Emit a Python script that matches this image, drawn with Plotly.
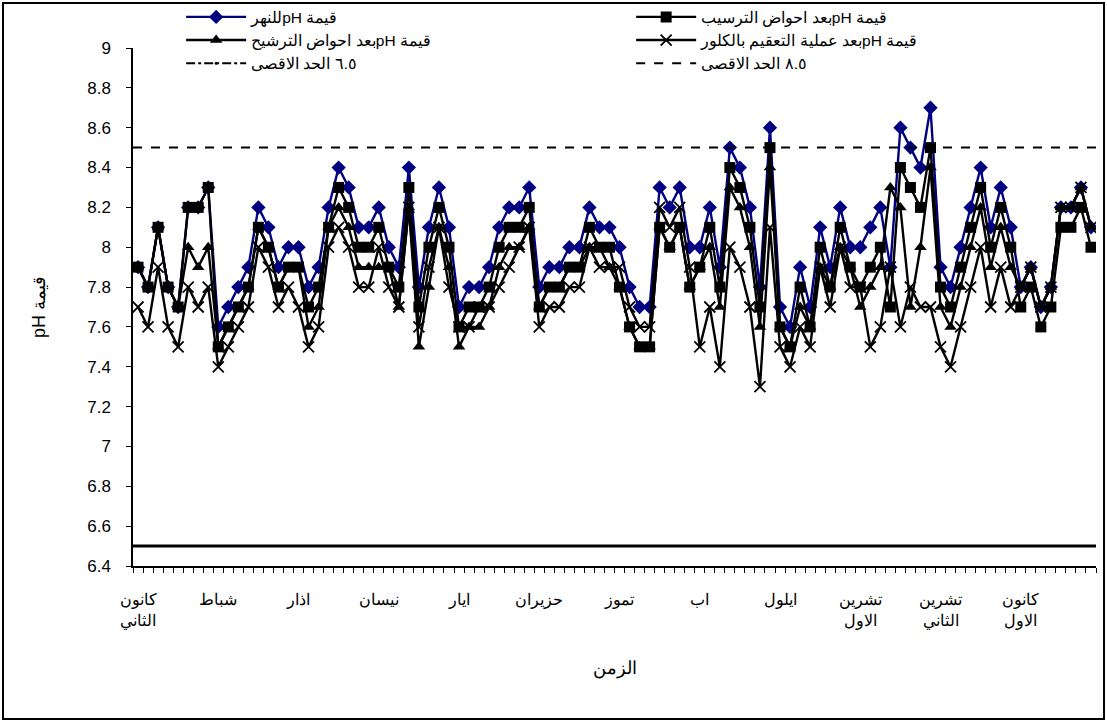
import plotly.graph_objects as go

# ---------------- data ----------------
months = ["كانون<br>الثاني", "شباط", "اذار", "نيسان", "ايار", "حزيران",
          "تموز", "اب", "ايلول", "تشرين<br>الاول", "تشرين<br>الثاني", "كانون<br>الاول"]
samples_per_month = 8

river = [7.9, 7.8, 8.1, 7.8, 7.7, 8.2, 8.2, 8.3,
         7.6, 7.7, 7.8, 7.9, 8.2, 8.1, 7.9, 8.0,
         8.0, 7.8, 7.9, 8.2, 8.4, 8.3, 8.1, 8.1,
         8.2, 8.0, 7.9, 8.4, 7.8, 8.1, 8.3, 8.1,
         7.7, 7.8, 7.8, 7.9, 8.1, 8.2, 8.2, 8.3,
         7.8, 7.9, 7.9, 8.0, 8.0, 8.2, 8.1, 8.1,
         8.0, 7.8, 7.7, 7.7, 8.3, 8.2, 8.3, 8.0,
         8.0, 8.2, 7.9, 8.5, 8.4, 8.2, 7.8, 8.6,
         7.7, 7.6, 7.9, 7.7, 8.1, 7.9, 8.2, 8.0,
         8.0, 8.1, 8.2, 7.9, 8.6, 8.5, 8.4, 8.7,
         7.9, 7.8, 8.0, 8.2, 8.4, 8.1, 8.3, 8.1,
         7.8, 7.9, 7.7, 7.8, 8.2, 8.2, 8.3, 8.1]

sedimentation = [7.9, 7.8, 8.1, 7.8, 7.7, 8.2, 8.2, 8.3,
                 7.5, 7.6, 7.7, 7.8, 8.1, 8.0, 7.8, 7.9,
                 7.9, 7.7, 7.8, 8.1, 8.3, 8.2, 8.0, 8.0,
                 8.1, 7.9, 7.8, 8.3, 7.7, 8.0, 8.2, 8.0,
                 7.6, 7.7, 7.7, 7.8, 8.0, 8.1, 8.1, 8.2,
                 7.7, 7.8, 7.8, 7.9, 7.9, 8.1, 8.0, 8.0,
                 7.8, 7.6, 7.5, 7.5, 8.1, 8.0, 8.1, 7.8,
                 7.9, 8.1, 7.8, 8.4, 8.3, 8.1, 7.7, 8.5,
                 7.6, 7.5, 7.8, 7.6, 8.0, 7.8, 8.1, 7.9,
                 7.8, 7.9, 8.0, 7.7, 8.4, 8.3, 8.2, 8.5,
                 7.8, 7.7, 7.9, 8.1, 8.3, 8.0, 8.2, 8.0,
                 7.7, 7.8, 7.6, 7.7, 8.1, 8.1, 8.2, 8.0]

filtration = [7.9, 7.8, 8.1, 7.8, 7.7, 8.0, 7.9, 8.0,
              7.5, 7.6, 7.7, 7.8, 8.1, 8.0, 7.8, 7.9,
              7.9, 7.6, 7.7, 8.1, 8.2, 8.1, 7.9, 7.9,
              7.9, 7.9, 7.7, 8.2, 7.5, 7.8, 8.1, 7.9,
              7.5, 7.6, 7.6, 7.7, 7.9, 8.0, 8.0, 8.1,
              7.7, 7.8, 7.8, 7.9, 7.9, 8.0, 8.0, 7.9,
              7.8, 7.6, 7.5, 7.5, 8.1, 8.0, 8.1, 7.8,
              7.9, 8.0, 7.7, 8.3, 8.2, 8.0, 7.6, 8.4,
              7.6, 7.5, 7.7, 7.6, 7.9, 7.8, 8.0, 7.9,
              7.7, 7.8, 7.9, 8.3, 8.2, 7.7, 8.0, 8.4,
              7.7, 7.6, 7.8, 8.0, 8.2, 7.9, 8.1, 7.9,
              7.8, 7.9, 7.7, 7.8, 8.2, 8.2, 8.3, 8.1]

chlorination = [7.7, 7.6, 7.9, 7.6, 7.5, 7.8, 7.7, 7.8,
                7.4, 7.5, 7.6, 7.7, 8.0, 7.9, 7.7, 7.8,
                7.7, 7.5, 7.6, 8.0, 8.1, 8.0, 7.8, 7.8,
                8.0, 7.8, 7.7, 8.2, 7.6, 7.9, 8.1, 7.8,
                7.6, 7.6, 7.7, 7.7, 7.8, 7.9, 8.0, 8.1,
                7.6, 7.7, 7.7, 7.8, 7.8, 8.0, 7.9, 7.9,
                7.9, 7.7, 7.6, 7.6, 8.2, 8.1, 8.2, 7.9,
                7.5, 7.7, 7.4, 8.0, 7.9, 7.7, 7.3, 8.1,
                7.5, 7.4, 7.6, 7.5, 7.9, 7.7, 8.0, 7.8,
                7.8, 7.5, 7.6, 7.9, 7.6, 7.8, 7.7, 7.7,
                7.5, 7.4, 7.6, 7.8, 8.0, 7.7, 7.9, 7.7,
                7.8, 7.9, 7.7, 7.8, 8.2, 8.2, 8.3, 8.1]

lower_limit = 6.5
upper_limit = 8.5

names = ["قيمة pHللنهر",
         "قيمة pHبعد احواض الترسيب",
         "قيمة pHبعد احواض الترشيح",
         "قيمة pHبعد عملية التعقيم بالكلور",
         "٦.٥ الحد الاقصى",
         "٨.٥ الحد الاقصى"]
x_title = "الزمن"
y_title = "قيمة pH"


def rtl(s):
    return "\u202b" + s + "\u202c"


x = list(range(len(river)))
tick_pos = [i * samples_per_month for i in range(len(months))]

fig = go.Figure()

# limit lines (drawn across the full plot width)
fig.add_shape(type="line", xref="x domain", yref="y", x0=0, x1=1,
              y0=lower_limit, y1=lower_limit, line=dict(color="black", width=3))
fig.add_shape(type="line", xref="x domain", yref="y", x0=0, x1=1,
              y0=upper_limit, y1=upper_limit, line=dict(color="black", width=2, dash="dash"))

LW = 2.4
fig.add_trace(go.Scatter(x=x, y=river, name=rtl(names[0]), mode="lines+markers",
                         line=dict(color="#000080", width=LW),
                         marker=dict(symbol="diamond", size=11, color="#000080")))
fig.add_trace(go.Scatter(x=x, y=sedimentation, name=rtl(names[1]), mode="lines+markers",
                         line=dict(color="black", width=LW),
                         marker=dict(symbol="square", size=11, color="black")))
fig.add_trace(go.Scatter(x=x, y=filtration, name=rtl(names[2]), mode="lines+markers",
                         line=dict(color="black", width=LW),
                         marker=dict(symbol="triangle-up", size=11, color="black")))
fig.add_trace(go.Scatter(x=x, y=chlorination, name=rtl(names[3]), mode="lines+markers",
                         line=dict(color="black", width=LW),
                         marker=dict(symbol="x-thin", size=11, color="black",
                                     line=dict(color="black", width=1.8))))
# legend entries for the limit lines
fig.add_trace(go.Scatter(x=[None], y=[None], name=rtl(names[4]), mode="lines+markers",
                         line=dict(color="black", width=2, dash="dashdot"),
                         marker=dict(symbol="circle", size=3, color="black")))
fig.add_trace(go.Scatter(x=[None], y=[None], name=rtl(names[5]), mode="lines",
                         line=dict(color="black", width=2, dash="dash")))

W, H = 1107, 722
L, R, T, B = 133, 11, 48, 156
pw, ph = W - L - R, H - T - B

fig.add_shape(type="rect", xref="paper", yref="paper",
              x0=(3 - L) / pw, x1=(W - 3 - L) / pw,
              y0=-(H - 3 - T - ph) / ph, y1=1 + (T - 3) / ph,
              line=dict(color="black", width=2), layer="below")

fig.update_layout(
    width=W, height=H,
    margin=dict(l=L, r=R, t=T, b=B, autoexpand=False),
    paper_bgcolor="white", plot_bgcolor="white",
    font=dict(family="Liberation Sans, Arial, sans-serif", size=16, color="black"),
    showlegend=True,
    legend=dict(orientation="h", x=0.05, y=1.092, xanchor="left", yanchor="top",
                entrywidth=375, entrywidthmode="pixels", tracegroupgap=0,
                bgcolor="rgba(0,0,0,0)", font=dict(size=15.5), itemwidth=60),
    xaxis=dict(range=[-0.5, len(river) - 0.5], tickmode="array", tickvals=tick_pos,
               ticktext=months, ticks="", showline=True, linecolor="black", linewidth=1.5,
               showgrid=False, zeroline=False, ticklabelstandoff=18,
               tickfont=dict(size=16),
               minor=dict(tickmode="linear", tick0=-0.5, dtick=1, ticks="outside",
                          ticklen=5, tickcolor="black", tickwidth=1, showgrid=False),
               title=dict(text=rtl(x_title), font=dict(size=18), standoff=33)),
    yaxis=dict(range=[6.4, 9], dtick=0.2, tick0=6.4, ticks="outside", ticklen=5,
               tickcolor="black", showline=True, linecolor="black", linewidth=1.5,
               showgrid=False, zeroline=False, tickfont=dict(size=17),
               ticklabelstandoff=12,
               title=dict(text=rtl(y_title), font=dict(size=18), standoff=37)),
)

fig.write_html("out.html", config={"displayModeBar": False},
               post_script="document.body.style.margin='0';document.body.style.overflow='hidden';")
